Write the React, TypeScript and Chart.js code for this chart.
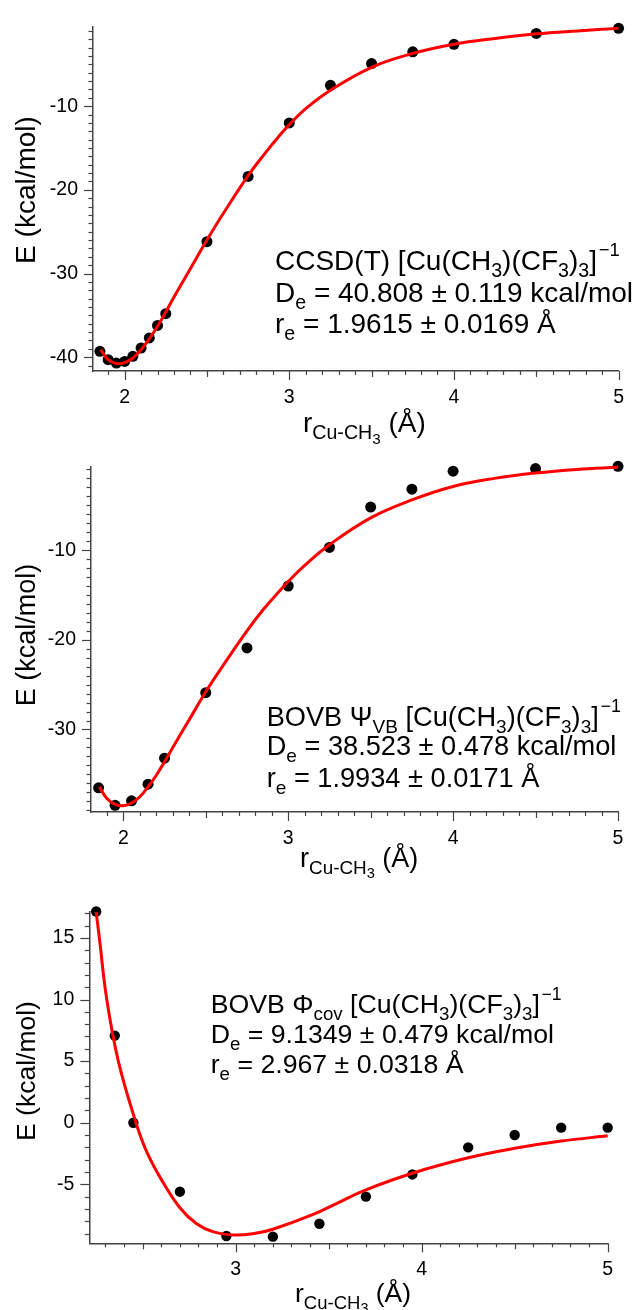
import React, { useEffect, useRef } from 'react';
import { Chart, registerables } from 'chart.js';
Chart.register(...registerables);

const FONT = "'Liberation Sans', Arial, Helvetica, sans-serif";
const W = 639;

// ---------- Panel 1: CCSD(T) ----------
const p1PointsR = [1.85, 1.90, 1.95, 2.00, 2.05, 2.10, 2.15, 2.20, 2.25, 2.50, 2.75, 3.00, 3.25, 3.50, 3.75, 4.00, 4.50, 5.00];
const p1PointsE = [-39.3, -40.3, -40.7, -40.5, -39.9, -38.9, -37.7, -36.2, -34.8, -26.2, -18.4, -12.0, -7.5, -4.9, -3.5, -2.6, -1.3, -0.7];
const p1FitR = [1.855, 1.90, 1.95, 2.00, 2.05, 2.10, 2.15, 2.20, 2.25, 2.30, 2.40, 2.50, 2.60, 2.75, 2.85, 2.95, 3.00, 3.10, 3.25, 3.50, 3.75, 4.00, 4.25, 4.50, 4.75, 5.00];
const p1FitE = [-39.1, -40.3, -40.75, -40.65, -40.1, -39.1, -37.8, -36.3, -34.6, -32.8, -29.4, -26.0, -22.8, -18.3, -15.7, -13.3, -12.2, -10.3, -8.1, -5.35, -3.7, -2.6, -1.9, -1.35, -1.0, -0.7];
const p1XTicks = [2, 3, 4, 5];
const p1YTicks = [-40, -30, -20, -10];

// ---------- Panel 2: BOVB Psi_VB ----------
const p2PointsR = [1.85, 1.95, 2.05, 2.15, 2.25, 2.50, 2.75, 3.00, 3.25, 3.50, 3.75, 4.00, 4.50, 5.00];
const p2PointsE = [-36.5, -38.45, -37.95, -36.1, -33.2, -25.9, -20.9, -14.0, -9.7, -5.2, -3.2, -1.2, -0.9, -0.65];
const p2FitR = [1.855, 1.90, 1.95, 2.00, 2.05, 2.10, 2.15, 2.20, 2.25, 2.30, 2.40, 2.50, 2.60, 2.75, 2.85, 2.95, 3.00, 3.10, 3.25, 3.50, 3.75, 4.00, 4.25, 4.50, 4.75, 5.00];
const p2FitE = [-36.4, -37.7, -38.35, -38.5, -38.2, -37.5, -36.4, -35.1, -33.6, -32.0, -28.9, -25.8, -23.0, -19.0, -16.6, -14.5, -13.5, -11.7, -9.4, -6.4, -4.4, -2.9, -2.0, -1.4, -1.0, -0.75];
const p2XTicks = [2, 3, 4, 5];
const p2YTicks = [-30, -20, -10];

// ---------- Panel 3: BOVB Phi_cov ----------
const p3PointsR = [2.25, 2.35, 2.45, 2.70, 2.95, 3.20, 3.45, 3.70, 3.95, 4.25, 4.50, 4.75, 5.00];
const p3PointsE = [17.15, 7.07, 0.0, -5.6, -9.2, -9.25, -8.2, -6.0, -4.2, -2.0, -1.0, -0.4, -0.4];
const p3FitR = [2.25, 2.267, 2.307, 2.369, 2.464, 2.52, 2.60, 2.70, 2.79, 2.88, 2.987, 3.10, 3.20, 3.417, 3.55, 3.70, 3.95, 4.25, 4.50, 4.75, 5.00];
const p3FitE = [17.1, 15.0, 10.0, 5.0, 0.0, -2.3, -4.6, -6.9, -8.2, -8.86, -9.12, -9.0, -8.65, -7.45, -6.5, -5.45, -4.1, -2.85, -2.08, -1.49, -1.06];
const p3XTicks = [3, 4, 5];
const p3YTicks = [-5, 0, 5, 10, 15];

// ---------- Texts (segment: [text, mode]) mode 0 normal, 1 sub, 2 sup, 3 sub-sub ----------
type Seg = [string, number];
const xTitleSegs: Seg[] = [['r', 0], ['Cu-CH', 1], ['3', 3], [' (Å)', 0]];
const yTitleText = 'E (kcal/mol)';
const p1Note: Seg[][] = [
  [['CCSD(T) [Cu(CH', 0], ['3', 1], [')(CF', 0], ['3', 1], [')', 0], ['3', 1], [']', 0], ['−1', 2]],
  [['D', 0], ['e', 1], [' = 40.808 ± 0.119 kcal/mol', 0]],
  [['r', 0], ['e', 1], [' = 1.9615 ± 0.0169 Å', 0]],
];
const p2Note: Seg[][] = [
  [['BOVB Ψ', 0], ['VB', 1], [' [Cu(CH', 0], ['3', 1], [')(CF', 0], ['3', 1], [')', 0], ['3', 1], [']', 0], ['−1', 2]],
  [['D', 0], ['e', 1], [' = 38.523 ± 0.478 kcal/mol', 0]],
  [['r', 0], ['e', 1], [' = 1.9934 ± 0.0171 Å', 0]],
];
const p3Note: Seg[][] = [
  [['BOVB Φ', 0], ['cov', 1], [' [Cu(CH', 0], ['3', 1], [')(CF', 0], ['3', 1], [')', 0], ['3', 1], [']', 0], ['−1', 2]],
  [['D', 0], ['e', 1], [' = 9.1349 ± 0.479 kcal/mol', 0]],
  [['r', 0], ['e', 1], [' = 2.967 ± 0.0318 Å', 0]],
];

const panels = [
  {
    top: 0, h: 445, area: { l: 93, r: 629, t: 16, b: 371 },
    xMin: 1.808, xMax: 5, yMin: -41.65, yMax: -0.5, yMajor: 10,
    xTicks: p1XTicks, yTicks: p1YTicks,
    ptR: p1PointsR, ptE: p1PointsE, fitR: p1FitR, fitE: p1FitE, ptRadius: 5.5,
    note: p1Note, noteX: 275, noteY: [270, 301.7, 333.3], noteFs: 28,
    yTitle: { x: 35, y: 190 }, xTitle: { x: 303, y: 432 }, titleFs: 28,
  },
  {
    top: 440, h: 445, area: { l: 91, r: 618, t: 27, b: 372 },
    xMin: 1.804, xMax: 5, yMin: -39.2, yMax: -0.73, yMajor: 10,
    xTicks: p2XTicks, yTicks: p2YTicks,
    ptR: p2PointsR, ptE: p2PointsE, fitR: p2FitR, fitE: p2FitE, ptRadius: 5.5,
    note: p2Note, noteX: 266.7, noteY: [286, 315, 347], noteFs: 27.2,
    yTitle: { x: 35, y: 195 }, xTitle: { x: 300, y: 427 }, titleFs: 27,
  },
  {
    top: 885, h: 425, area: { l: 89.3, r: 607.7, t: 21, b: 358.3 },
    xMin: 2.213, xMax: 5, yMin: -9.79, yMax: 17.13, yMajor: 5,
    xTicks: p3XTicks, yTicks: p3YTicks,
    ptR: p3PointsR, ptE: p3PointsE, fitR: p3FitR, fitE: p3FitE, ptRadius: 5.2,
    note: p3Note, noteX: 210.7, noteY: [128, 158.3, 188.3], noteFs: 26.7,
    yTitle: { x: 35, y: 186 }, xTitle: { x: 295, y: 417 }, titleFs: 26.5,
  },
];

function drawRich(ctx: CanvasRenderingContext2D, segs: Seg[], x: number, y: number, fs: number) {
  let cx = x;
  for (const [t, m] of segs) {
    let size = fs, dy = 0;
    if (m === 1) { size = fs * 0.7; dy = fs * 0.25; }
    if (m === 2) { size = fs * 0.66; dy = -fs * 0.5; cx += fs * 0.06; }
    if (m === 3) { size = fs * 0.54; dy = fs * 0.42; }
    ctx.font = `${size}px ${FONT}`;
    ctx.fillText(t, cx, y + dy);
    cx += ctx.measureText(t).width;
  }
}

const decoPlugin = {
  id: 'deco',
  afterDraw(chart: any, _args: any, opts: any) {
    const cfg = opts.cfg;
    if (!cfg) return;
    const { ctx, chartArea: a } = chart;
    const x = chart.scales.x, y = chart.scales.y;
    ctx.save();
    ctx.strokeStyle = '#444';
    ctx.lineWidth = 1.2;
    const x0 = Math.ceil(x.min * 10 - 1e-6), x1 = Math.floor(x.max * 10 + 1e-6);
    for (let i = x0; i <= x1; i++) {
      const px = Math.round(x.getPixelForValue(i / 10)) + 0.5;
      const len = i % 10 === 0 ? 9 : (i % 5 === 0 ? 6 : 4);
      ctx.beginPath(); ctx.moveTo(px, a.bottom); ctx.lineTo(px, a.bottom + len); ctx.stroke();
    }
    const y0 = Math.ceil(y.min - 1e-6), y1 = Math.floor(y.max + 1e-6);
    for (let v = y0; v <= y1; v++) {
      const py = Math.round(y.getPixelForValue(v)) + 0.5;
      const len = v % cfg.yMajor === 0 ? 9 : 4.5;
      ctx.beginPath(); ctx.moveTo(a.left, py); ctx.lineTo(a.left - len, py); ctx.stroke();
    }
    ctx.fillStyle = '#000';
    ctx.textAlign = 'left';
    ctx.textBaseline = 'alphabetic';
    cfg.note.forEach((line: Seg[], i: number) => drawRich(ctx, line, cfg.noteX, cfg.noteY[i], cfg.noteFs));
    drawRich(ctx, xTitleSegs, cfg.xTitle.x, cfg.xTitle.y, cfg.titleFs);
    ctx.save();
    ctx.translate(cfg.yTitle.x, cfg.yTitle.y);
    ctx.rotate(-Math.PI / 2);
    ctx.textAlign = 'center';
    ctx.font = `${cfg.titleFs}px ${FONT}`;
    ctx.fillText(yTitleText, 0, 0);
    ctx.restore();
    ctx.restore();
  },
};

function Panel({ cfg }: { cfg: any }) {
  const ref = useRef<HTMLCanvasElement>(null);
  useEffect(() => {
    const chart = new Chart(ref.current as HTMLCanvasElement, {
      type: 'scatter',
      data: {
        datasets: [
          {
            data: cfg.fitR.map((r: number, i: number) => ({ x: r, y: cfg.fitE[i] })),
            showLine: true,
            borderColor: '#ff0000',
            borderWidth: 3,
            pointRadius: 0,
            tension: 0.4,
            order: 0,
            clip: false,
          } as any,
          {
            data: cfg.ptR.map((r: number, i: number) => ({ x: r, y: cfg.ptE[i] })),
            backgroundColor: '#000',
            borderColor: '#000',
            borderWidth: 0,
            pointRadius: cfg.ptRadius,
            order: 1,
            clip: false,
          } as any,
        ],
      },
      options: {
        responsive: false,
        maintainAspectRatio: false,
        animation: false,
        devicePixelRatio: 1,
        layout: { padding: { left: 0, top: cfg.area.t, right: W - cfg.area.r, bottom: 0 } },
        plugins: { legend: { display: false }, tooltip: { enabled: false }, deco: { cfg } } as any,
        scales: {
          x: {
            type: 'linear', min: cfg.xMin, max: cfg.xMax,
            afterBuildTicks: (s: any) => { s.ticks = cfg.xTicks.map((v: number) => ({ value: v })); },
            afterFit: (s: any) => { s.height = cfg.h - cfg.area.b; },
            grid: { display: false, drawTicks: false },
            border: { display: true, color: '#444', width: 1.5 },
            ticks: { padding: 15, color: '#000', font: { family: FONT, size: 19.5 }, callback: (v: any) => String(v), maxRotation: 0 },
          },
          y: {
            type: 'linear', min: cfg.yMin, max: cfg.yMax,
            afterBuildTicks: (s: any) => { s.ticks = cfg.yTicks.map((v: number) => ({ value: v })); },
            afterFit: (s: any) => { s.width = cfg.area.l; },
            grid: { display: false, drawTicks: false },
            border: { display: true, color: '#444', width: 1.5 },
            ticks: { padding: 15, color: '#000', font: { family: FONT, size: 19.5 }, callback: (v: any) => String(v) },
          },
        },
      },
      plugins: [decoPlugin],
    } as any);
    return () => chart.destroy();
  }, []);
  return (
    <canvas
      ref={ref}
      width={W}
      height={cfg.h}
      style={{ position: 'absolute', left: 0, top: cfg.top, width: W, height: cfg.h }}
    />
  );
}

export default function App() {
  return (
    <div style={{ position: 'absolute', left: 0, top: 0, width: W, height: 1310, background: '#fff', overflow: 'hidden' }}>
      {panels.map((p, i) => <Panel key={i} cfg={p} />)}
    </div>
  );
}
